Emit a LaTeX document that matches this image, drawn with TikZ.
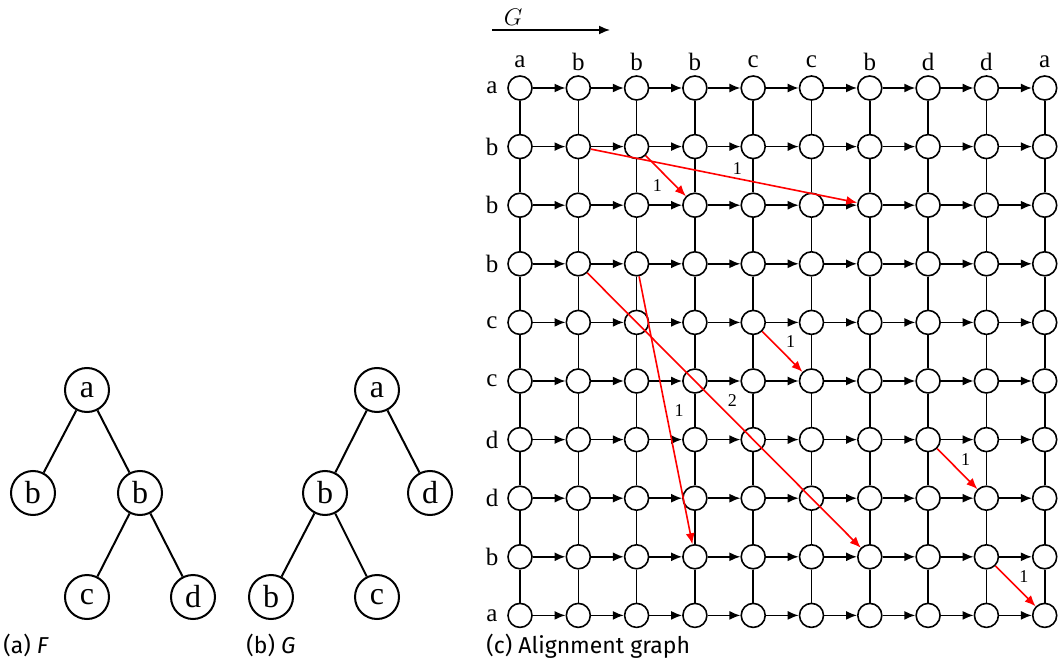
\documentclass[tikz,border=0pt]{standalone}
\usepackage{fontspec}
\setmainfont{Liberation Serif}
\newfontfamily\capfont{Fira Sans}
\usepackage{tikz}
\usetikzlibrary{arrows.meta}
\tikzset{>={Latex[length=5.5pt,width=4.5pt]}, font=\fontsize{12.5}{12.5}\selectfont}
\tikzset{vert/.style={shape=circle, draw, fill=white, inner sep=0pt,
    minimum size=12pt, line width=.8pt}}
\tikzset{tnode/.style={shape=circle, draw, fill=white, inner sep=0pt,
    minimum size=22pt, line width=1pt, font=\fontsize{16}{16}\selectfont}}
\tikzset{match/.style={->, red, line width=.8pt}}
\tikzset{cost/.style={font=\fontsize{9}{9}\selectfont, inner sep=1.5pt, text=black}}
\tikzset{caption/.style={anchor=base west, inner sep=0pt, font=\capfont\fontsize{11.5}{11.5}\selectfont}}

\begin{document}
\begin{tikzpicture}[x=.5pt, y=-.5pt]
  \useasboundingbox (0,0) rectangle (1060,663);
  %%%% tree F
  \begin{scope}[line width=1pt]
      \node[tnode] (fa) at (87,390) {a};
      \node[tnode] (fb1) at (33,493) {b};
      \node[tnode] (fb2) at (140,493) {b};
      \node[tnode] (fc) at (87,597) {c};
      \node[tnode] (fd) at (193,597) {d};
      \draw (fa) -- (fb1);
      \draw (fa) -- (fb2);
      \draw (fb2) -- (fc);
      \draw (fb2) -- (fd);
  \end{scope}
  %%%% tree G
  \begin{scope}[line width=1pt]
      \node[tnode] (ga) at (377,390) {a};
      \node[tnode] (gb1) at (325,493) {b};
      \node[tnode] (gd) at (430,493) {d};
      \node[tnode] (gb2) at (271,597) {b};
      \node[tnode] (gc) at (377,597) {c};
      \draw (ga) -- (gb1);
      \draw (ga) -- (gd);
      \draw (gb1) -- (gb2);
      \draw (gb1) -- (gc);
  \end{scope}
  %%%% alignment graph
  \coordinate (gs) at (492,30);
  \coordinate (ge) at (610,30);
  \draw[->, line width=.8pt] (gs) -- node[pos=.18, above, inner sep=2pt] {$G$} (ge);
  \foreach \l [count=\j from 0] in {a,b,b,b,c,c,b,d,d,a}
      \node (c\j) at ({520+58.3*\j},62) {\l};
  \foreach \l [count=\i from 0] in {a,b,b,b,c,c,d,d,b,a}
      \node (r\i) at (492,{88+58.6*\i}) {\l};
  \foreach \i in {0,...,9}
    \foreach \j in {0,...,9}
      \node[vert] (g\i-\j) at ({520+58.3*\j},{88+58.6*\i}) {};
  \begin{scope}[line width=.8pt]
  \foreach \i in {0,...,9}{
    \foreach \j in {0,...,8}{
      \pgfmathtruncatemacro\k{\j+1}
      \draw[->] (g\i-\j) -- (g\i-\k);
      \draw (g\j-\i) -- (g\k-\i);
    }
  }
  \end{scope}
  %%%% matches
  \draw[match] (g1-1) -- node[cost, above, pos=.55] {1} (g2-6);
  \draw[match] (g1-2) -- node[cost, below left] {1} (g2-3);
  \draw[match] (g3-1) -- node[cost, above right] {2} (g8-6);
  \draw[match] (g3-2) -- node[cost, right, inner sep=4pt] {1} (g8-3);
  \draw[match] (g4-4) -- node[cost, above right] {1} (g5-5);
  \draw[match] (g6-7) -- node[cost, above right] {1} (g7-8);
  \draw[match] (g8-8) -- node[cost, above right] {1} (g9-9);
  %%%% captions
  \node[caption] (capa) at (3,653) {(a) \textit{F}};
  \node[caption] (capb) at (246,653) {(b) \textit{G}};
  \node[caption] (capc) at (486,653) {(c) Alignment graph};
\end{tikzpicture}
\end{document}
